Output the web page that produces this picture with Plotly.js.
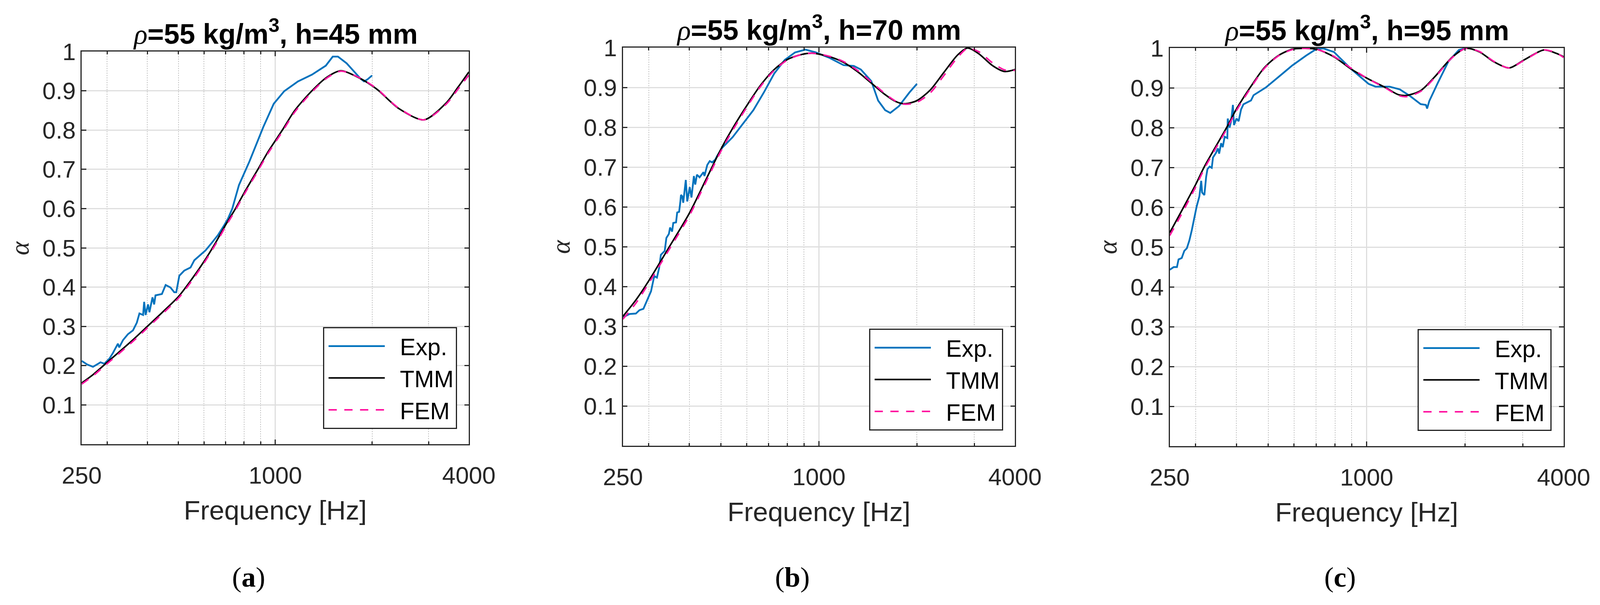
<!DOCTYPE html>
<html>
<head>
<meta charset="utf-8">
<script src="https://cdn.plot.ly/plotly-3.0.1.min.js"></script>
<style>html,body{margin:0;padding:0;background:#ffffff;overflow:hidden;}</style>
</head>
<body>
<div id="chart"></div>
<script>
// ---------------- data ----------------
const xTickVals = [250, 1000, 4000];
const xTickText = ['250', '1000', '4000'];
const xMinorVals = [300, 400, 500, 600, 700, 800, 900, 2000, 3000];
const yTickVals = [0.1, 0.2, 0.3, 0.4, 0.5, 0.6, 0.7, 0.8, 0.9, 1.0];
const yTickText = ['0.1', '0.2', '0.3', '0.4', '0.5', '0.6', '0.7', '0.8', '0.9', '1'];
const seriesNames = ['Exp.', 'TMM', 'FEM'];
const density = '55';
const thickness = ['45', '70', '95'];
const panelLetters = ['a', 'b', 'c'];

// (a) h = 45 mm
const expA_f = [250, 260, 271, 286, 294, 305, 313, 324, 327, 336, 348, 361, 371, 378, 388, 391, 395, 402, 406, 415, 420, 424, 444, 456, 472, 485, 492, 503, 521, 545, 560, 585, 607, 635, 664, 694, 713, 735, 771, 831, 918, 989, 1066, 1177, 1300, 1436, 1509, 1566, 1667, 1841, 1888, 1935, 2000];
const expA = [0.212, 0.203, 0.197, 0.2085, 0.205, 0.218, 0.233, 0.256, 0.2465, 0.265, 0.28, 0.29, 0.3095, 0.333, 0.329, 0.3625, 0.329, 0.356, 0.336, 0.374, 0.356, 0.379, 0.3825, 0.4055, 0.399, 0.387, 0.387, 0.429, 0.442, 0.450, 0.4685, 0.482, 0.4935, 0.513, 0.533, 0.558, 0.5746, 0.60, 0.66, 0.72, 0.808, 0.867, 0.899, 0.924, 0.941, 0.964, 0.987, 0.987, 0.970, 0.931, 0.924, 0.929, 0.939];
const modelA_f = [250, 271, 300, 361, 400, 447, 500, 550, 600, 652, 700, 752, 800, 883, 950, 1052, 1150, 1300, 1450, 1600, 1841, 2008, 2100, 2420, 2900, 3400, 3707, 4000];
const tmmA = [0.156, 0.177, 0.2085, 0.266, 0.30, 0.337, 0.376, 0.4205, 0.465, 0.513, 0.558, 0.60, 0.64, 0.70, 0.745, 0.80, 0.85, 0.90, 0.935, 0.951, 0.931, 0.912, 0.90, 0.855, 0.826, 0.869, 0.91, 0.948];
const femA = [0.153, 0.174, 0.205, 0.262, 0.296, 0.333, 0.372, 0.416, 0.461, 0.509, 0.554, 0.596, 0.636, 0.696, 0.741, 0.796, 0.846, 0.897, 0.933, 0.950, 0.932, 0.913, 0.901, 0.856, 0.826, 0.866, 0.905, 0.940];

// (b) h = 70 mm
const expB_f = [250, 262, 274, 281, 289, 297, 305, 311, 313, 318, 323, 327, 336, 340, 346, 349, 354, 357, 364, 367, 372, 375, 377, 380, 383, 390, 394, 401, 406, 413, 417, 422, 430, 442, 445, 454, 462, 470, 480, 487, 504, 543, 585, 629, 677, 729, 785, 845, 909, 978, 1079, 1190, 1280, 1345, 1448, 1520, 1597, 1656, 1761, 1895, 2000];
const expB = [0.3225, 0.331, 0.332, 0.3405, 0.344, 0.365, 0.388, 0.4207, 0.4256, 0.4223, 0.4468, 0.4796, 0.4894, 0.522, 0.532, 0.548, 0.538, 0.5597, 0.561, 0.5859, 0.5875, 0.6104, 0.630, 0.627, 0.6104, 0.6676, 0.6136, 0.6497, 0.6235, 0.6774, 0.656, 0.6808, 0.6742, 0.6872, 0.6774, 0.7053, 0.715, 0.7118, 0.7184, 0.728, 0.748, 0.775, 0.809, 0.843, 0.887, 0.935, 0.969, 0.988, 0.995, 0.988, 0.974, 0.956, 0.954, 0.945, 0.916, 0.867, 0.843, 0.836, 0.853, 0.887, 0.909];
const modelB_f = [250, 274, 300, 345, 400, 447, 500, 543, 599, 661, 729, 804, 887, 954, 1079, 1190, 1312, 1448, 1597, 1718, 1827, 1990, 2195, 2421, 2670, 2860, 3093, 3411, 3717, 4000];
const tmmB = [0.325, 0.366, 0.414, 0.496, 0.584, 0.664, 0.745, 0.797, 0.853, 0.905, 0.945, 0.971, 0.983, 0.986, 0.977, 0.963, 0.94, 0.911, 0.882, 0.865, 0.859, 0.866, 0.893, 0.938, 0.982, 0.999, 0.985, 0.955, 0.94, 0.945];
const femB = [0.318, 0.358, 0.408, 0.49, 0.578, 0.658, 0.74, 0.792, 0.849, 0.902, 0.943, 0.970, 0.983, 0.986, 0.978, 0.965, 0.943, 0.914, 0.884, 0.866, 0.858, 0.862, 0.886, 0.93, 0.976, 0.998, 0.990, 0.962, 0.944, 0.943];

// (c) h = 95 mm
const expC_f = [250, 257, 263, 266, 272, 277, 282, 287, 292, 297, 302, 308, 312, 314, 319, 323, 326, 331, 336, 339, 346, 351, 354, 359, 363, 368, 375, 376, 381, 385, 390, 393, 400, 406, 413, 420, 435, 443, 451, 467, 492, 537, 592, 653, 703, 737, 794, 897, 1013, 1064, 1174, 1263, 1359, 1462, 1517, 1530, 1554, 1651, 1777, 1913, 2000];
const expC = [0.443, 0.4497, 0.4497, 0.469, 0.4725, 0.4904, 0.4969, 0.5164, 0.5425, 0.5718, 0.6012, 0.6273, 0.6664, 0.637, 0.6305, 0.6762, 0.6957, 0.7022, 0.699, 0.725, 0.7364, 0.7478, 0.7348, 0.7608, 0.751, 0.7771, 0.7739, 0.8228, 0.80, 0.8162, 0.857, 0.8065, 0.8228, 0.8162, 0.8456, 0.8586, 0.8651, 0.8683, 0.8814, 0.8895, 0.901, 0.927, 0.956, 0.981, 0.998, 0.999, 0.99, 0.947, 0.91, 0.903, 0.903, 0.896, 0.879, 0.859, 0.857, 0.848, 0.867, 0.913, 0.966, 0.995, 0.999];
const modelC_f = [250, 271, 300, 319, 373, 400, 443, 487, 537, 592, 637, 703, 794, 897, 1013, 1145, 1248, 1326, 1462, 1612, 1821, 2008, 2214, 2442, 2726, 3042, 3480, 3790, 4000];
const tmmC = [0.536, 0.589, 0.657, 0.702, 0.80, 0.847, 0.904, 0.951, 0.981, 0.997, 0.999, 0.997, 0.978, 0.947, 0.922, 0.9, 0.883, 0.881, 0.893, 0.927, 0.976, 0.999, 0.99, 0.966, 0.95, 0.971, 0.995, 0.987, 0.978];
const femC = [0.529, 0.581, 0.651, 0.697, 0.796, 0.843, 0.901, 0.949, 0.980, 0.996, 0.999, 0.997, 0.979, 0.949, 0.922, 0.899, 0.881, 0.878, 0.891, 0.925, 0.975, 0.999, 0.991, 0.967, 0.95, 0.970, 0.995, 0.988, 0.976];

// ---------------- layout geometry (reference pixels, fitted to the window) ----------------
const W = 4269, H = 1550;
const vw = window.innerWidth || W, vh = window.innerHeight || H;
const kx = vw / W, ky = vh / H;
const sx = v => v * kx;   // horizontal sizes and fonts
const sy = v => v * ky;   // vertical offsets
const chartDiv = document.getElementById('chart');
chartDiv.style.width = vw + 'px';
chartDiv.style.height = vh + 'px';

const boxes = [
  {l: 218, r: 1251, t: 132, b: 1138},
  {l: 1662, r: 2708, t: 122, b: 1142},
  {l: 3121, r: 4172, t: 123, b: 1143}
];
const panels = [
  {expF: expA_f, exp: expA, modF: modelA_f, tmm: tmmA, fem: femA},
  {expF: expB_f, exp: expB, modF: modelB_f, tmm: tmmB, fem: femB},
  {expF: expC_f, exp: expC, modF: modelC_f, tmm: tmmC, fem: femC}
];

const AX = '#262626';
const SANS = 'Liberation Sans, Arial, Helvetica, sans-serif';
const SERIF = 'Liberation Serif, Times New Roman, serif';
const colors = {exp: '#0072BD', tmm: '#000000', fem: '#FF14A0'};

const data = [];
const layout = {
  width: vw, height: vh,
  margin: {l: 0, r: 0, t: 0, b: 0},
  paper_bgcolor: '#ffffff', plot_bgcolor: '#ffffff',
  hovermode: false,
  annotations: []
};

panels.forEach((p, i) => {
  const s = i === 0 ? '' : String(i + 1);
  const xa = 'x' + s, ya = 'y' + s;
  const lg = 'legend' + s;
  const bx = boxes[i];
  data.push({type: 'scatter', mode: 'lines', x: p.expF, y: p.exp, name: seriesNames[0],
    xaxis: xa, yaxis: ya, legend: lg, line: {color: colors.exp, width: 4.5}});
  data.push({type: 'scatter', mode: 'lines', x: p.modF, y: p.tmm, name: seriesNames[1],
    xaxis: xa, yaxis: ya, legend: lg, line: {color: colors.tmm, width: 4, shape: 'spline', smoothing: 0.8}});
  data.push({type: 'scatter', mode: 'lines', x: p.modF, y: p.fem, name: seriesNames[2],
    xaxis: xa, yaxis: ya, legend: lg,
    line: {color: colors.fem, width: 4, dash: sx(22) + 'px,' + sx(20) + 'px', shape: 'spline', smoothing: 0.8}});

  layout['xaxis' + s] = {
    type: 'log', range: [Math.log10(250), Math.log10(4000)],
    domain: [bx.l / W, bx.r / W], anchor: ya,
    tickmode: 'array', tickvals: xTickVals, ticktext: xTickText,
    ticks: 'inside', ticklen: sy(12), tickwidth: 3, tickcolor: AX,
    showline: true, linecolor: AX, linewidth: 3, mirror: 'ticks',
    showgrid: true, gridcolor: '#dedede', gridwidth: 3, zeroline: false,
    tickfont: {family: SANS, size: sx(64), color: AX},
    ticklabelstandoff: sy(24),
    minor: {tickmode: 'array', tickvals: xMinorVals, ticks: 'inside', ticklen: sy(7), tickwidth: 3, tickcolor: AX,
            showgrid: true, gridcolor: '#c4c4c4', gridwidth: 2, griddash: 'dot'},
    title: {text: 'Frequency [Hz]', font: {family: SANS, size: sx(72), color: AX}, standoff: sy(32)}
  };
  layout['yaxis' + s] = {
    range: [0, 1], domain: [1 - bx.b / H, 1 - bx.t / H], anchor: xa,
    tickmode: 'array', tickvals: yTickVals, ticktext: yTickText,
    ticks: 'inside', ticklen: sx(12), tickwidth: 3, tickcolor: AX,
    showline: true, linecolor: AX, linewidth: 3, mirror: 'ticks',
    showgrid: true, gridcolor: '#dedede', gridwidth: 3, zeroline: false,
    tickfont: {family: SANS, size: sx(64), color: AX},
    ticklabelstandoff: sx(22)
  };
  layout[lg] = {
    xref: 'paper', yref: 'paper',
    x: (bx.r - 32) / W, y: 1 - (bx.b - 39) / H, xanchor: 'right', yanchor: 'bottom',
    bgcolor: '#ffffff', bordercolor: '#222222', borderwidth: 3,
    font: {family: SANS, size: sx(63), color: '#000000'},
    itemwidth: sx(192), tracegroupgap: 0
  };
  layout.annotations.push({
    xref: 'paper', yref: 'paper', x: (bx.l + bx.r) / 2 / W, y: 1 - bx.t / H,
    xanchor: 'center', yanchor: 'bottom', yshift: sy(2), showarrow: false,
    text: "<span style=\"font-family:'Liberation Serif';font-weight:normal\"><i>ρ</i></span>=" + density +
          ' kg/m<sup>3</sup>, h=' + thickness[i] + ' mm',
    font: {family: SANS, size: sx(75), color: '#000000', weight: 'bold'}
  });
  layout.annotations.push({
    xref: 'paper', yref: 'paper', x: (bx.l - 166) / W, y: 1 - (bx.t + bx.b) / 2 / H,
    xanchor: 'center', yanchor: 'middle', showarrow: false, textangle: -90,
    text: '<i>α</i>', font: {family: SERIF, size: sx(70), color: AX}
  });
  layout.annotations.push({
    xref: 'paper', yref: 'paper', x: ((bx.l + bx.r) / 2 - 71) / W, y: 1 - 1478 / H,
    xanchor: 'center', yanchor: 'middle', showarrow: false,
    text: '(<b>' + panelLetters[i] + '</b>)', font: {family: SERIF, size: sx(76), color: '#000000'}
  });
});

// legend samples: longer line stubs than the default, leaving a gap before the text
function lengthenLegendLines(gd) {
  gd.querySelectorAll('g.legendlines path').forEach(el => {
    el.setAttribute('d', 'M' + sx(12) + ',0h' + sx(150));
  });
}

Plotly.newPlot('chart', data, layout, {displayModeBar: false, staticPlot: true}).then(gd => {
  lengthenLegendLines(gd);
  gd.on('plotly_afterplot', () => lengthenLegendLines(gd));
  [50, 200, 600, 1500, 3000].forEach(t => setTimeout(() => lengthenLegendLines(gd), t));
});
</script>
</body>
</html>
